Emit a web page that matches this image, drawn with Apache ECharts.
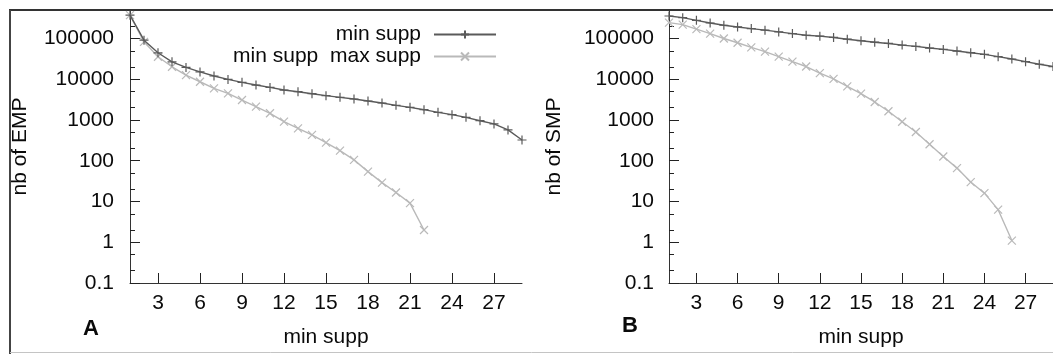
<!DOCTYPE html>
<html>
<head>
<meta charset="utf-8">
<script src="https://cdn.jsdelivr.net/npm/echarts@6/dist/echarts.min.js"></script>
<style>
html,body{margin:0;padding:0;background:#fff;}
#chart{width:1053px;height:354px;}
</style>
</head>
<body>
<div id="chart"></div>
<script>
// ---- data ----
const minSupp = [1,2,3,4,5,6,7,8,9,10,11,12,13,14,15,16,17,18,19,20,21,22,23,24,25,26,27,28,29];
const xTicks = [3,6,9,12,15,18,21,24,27];
const yTicks = [0.1,1,10,100,1000,10000,100000];
const yTickLabels = ['0.1','1','10','100','1000','10000','100000'];
const yMinorTicks = [0.2,0.5,2,5,20,50,200,500,2000,5000,20000,50000,200000];

// Panel A: nb of EMP
const empMin = [373000,91000,44600,26800,19500,15100,12000,9900,8400,7200,6300,5430,4940,4420,3950,3590,3270,2920,2610,2290,2040,1790,1540,1350,1160,960,800,570,323];
const empMinMax = [373000,82800,35600,20200,12600,8680,5970,4500,3090,2120,1460,910,625,430,279,177,105,54,29,16.6,9.1,2.0];

// Panel B: nb of SMP
const smpMin = [356000,324000,279000,240000,211000,192000,175000,160000,145000,132000,120000,114000,106000,96000,88000,81000,75500,68800,63900,58200,54000,49200,44800,40800,35800,31400,27000,23300,20500];
const smpMinMax = [245000,219000,169000,132000,100000,78500,60400,47400,35800,27000,20500,14100,10200,6670,4420,2770,1640,905,507,254,127,66,30,16,6.3,1.1];

const seriesNames = ['min supp', 'min supp  max supp'];
const xName = 'min supp';
const yNames = ['nb of EMP', 'nb of SMP'];
const panelLetters = ['A', 'B'];

// ---- style ----
const FONT = 'Liberation Sans, Arial, sans-serif';
const FS = 21;
const TXT = '#0a0a0a';
const DARK = '#5a5a5a';
const LIGHT = '#b9b9b9';
const PLUS = 'path://M0,5L10,5M5,0L5,10';
const CROSS = 'path://M0,0L10,10M10,0L0,10';

function pairs(xs, ys){ return ys.map((v,i)=>[xs[i], v]); }
function yFmt(v){
  let best = 0, bd = Infinity;
  yTicks.forEach((t,i)=>{ const d = Math.abs(Math.log10(v) - Math.log10(t)); if (d < bd){bd = d; best = i;} });
  return yTickLabels[best];
}

const grids = [
  {left:130, top:10, width:392, height:273},
  {left:669, top:10, width:394, height:273}
];

function xAxisFor(gi){
  return {
    type:'value', gridIndex:gi, min:1, max:29,
    name:xName, nameLocation:'middle', nameGap:44,
    nameTextStyle:{fontFamily:FONT, fontSize:FS, color:TXT},
    axisLine:{show:true, lineStyle:{color:'#333', width:1}},
    axisTick:{show:true, inside:true, length:10, customValues:xTicks, lineStyle:{color:'#222', width:1}},
    axisLabel:{show:true, customValues:xTicks, margin:10, fontFamily:FONT, fontSize:FS, color:TXT},
    splitLine:{show:false}
  };
}
function yAxisMajor(gi, labelMargin, nameGap){
  return {
    type:'log', logBase:10, gridIndex:gi, position:'left', min:0.1, max:500000,
    name:yNames[gi], nameLocation:'middle', nameGap:nameGap,
    nameTextStyle:{fontFamily:FONT, fontSize:FS, color:TXT},
    axisLine:{show:true, lineStyle:{color:'#333', width:1}},
    axisTick:{show:true, inside:true, length:10, customValues:yTicks, lineStyle:{color:'#222', width:1}},
    axisLabel:{show:true, customValues:yTicks, margin:labelMargin, formatter:yFmt, fontFamily:FONT, fontSize:FS, color:TXT},
    splitLine:{show:false}
  };
}
function yAxisMinor(gi){
  return {
    type:'log', logBase:10, gridIndex:gi, position:'left', offset:0, min:0.1, max:500000,
    axisLine:{show:false},
    axisTick:{show:true, inside:true, length:5, customValues:yMinorTicks, lineStyle:{color:'#222', width:1}},
    axisLabel:{show:false},
    splitLine:{show:false}
  };
}

function lineSeries(name, xi, yi, data, dark){
  const c = dark ? DARK : LIGHT;
  return {
    name:name, type:'line', xAxisIndex:xi, yAxisIndex:yi,
    data:data, symbol: dark ? PLUS : CROSS, symbolSize: dark ? 9 : 8,
    showAllSymbol:true,
    lineStyle:{color:c, width:1.4},
    itemStyle:{color:c, borderColor:c, borderWidth:1.2},
    emphasis:{disabled:true}, silent:true, z: dark ? 3 : 2
  };
}

const legendBase = {
  orient:'horizontal', align:'right', right:556, padding:0,
  itemWidth:62, itemHeight:10, selectedMode:false,
  textStyle:{fontFamily:FONT, fontSize:FS, color:TXT, padding:[0,8,0,0]}
};

const option = {
  animation:false,
  backgroundColor:'#fff',
  grid:grids,
  xAxis:[xAxisFor(0), xAxisFor(1)],
  yAxis:[yAxisMajor(0,16,99), yAxisMinor(0), yAxisMajor(1,15,104), yAxisMinor(1)],
  legend:[
    Object.assign({}, legendBase, {top:24, data:[seriesNames[0]]}),
    Object.assign({}, legendBase, {top:46, data:[seriesNames[1]]})
  ],
  series:[
    lineSeries(seriesNames[0], 0, 0, pairs(minSupp, empMin), true),
    lineSeries(seriesNames[1], 0, 0, pairs(minSupp, empMinMax), false),
    lineSeries(seriesNames[0], 1, 2, pairs(minSupp, smpMin), true),
    lineSeries(seriesNames[1], 1, 2, pairs(minSupp, smpMinMax), false)
  ],
  graphic:[
    {type:'line', shape:{x1:9, y1:10, x2:1053, y2:10}, style:{stroke:'#333', lineWidth:2}, silent:true},
    {type:'line', shape:{x1:10, y1:10, x2:10, y2:354}, style:{stroke:'#444', lineWidth:2}, silent:true},
    {type:'line', shape:{x1:10, y1:352.5, x2:1053, y2:352.5}, style:{stroke:'#c4c4c4', lineWidth:1}, silent:true},
    {type:'text', left:83, top:318, style:{text:panelLetters[0], font:'bold 22px ' + FONT, fill:TXT}, silent:true},
    {type:'text', left:622, top:315, style:{text:panelLetters[1], font:'bold 22px ' + FONT, fill:TXT}, silent:true}
  ]
};

const chart = echarts.init(document.getElementById('chart'), null, {renderer:'canvas'});
chart.setOption(option);
</script>
</body>
</html>
